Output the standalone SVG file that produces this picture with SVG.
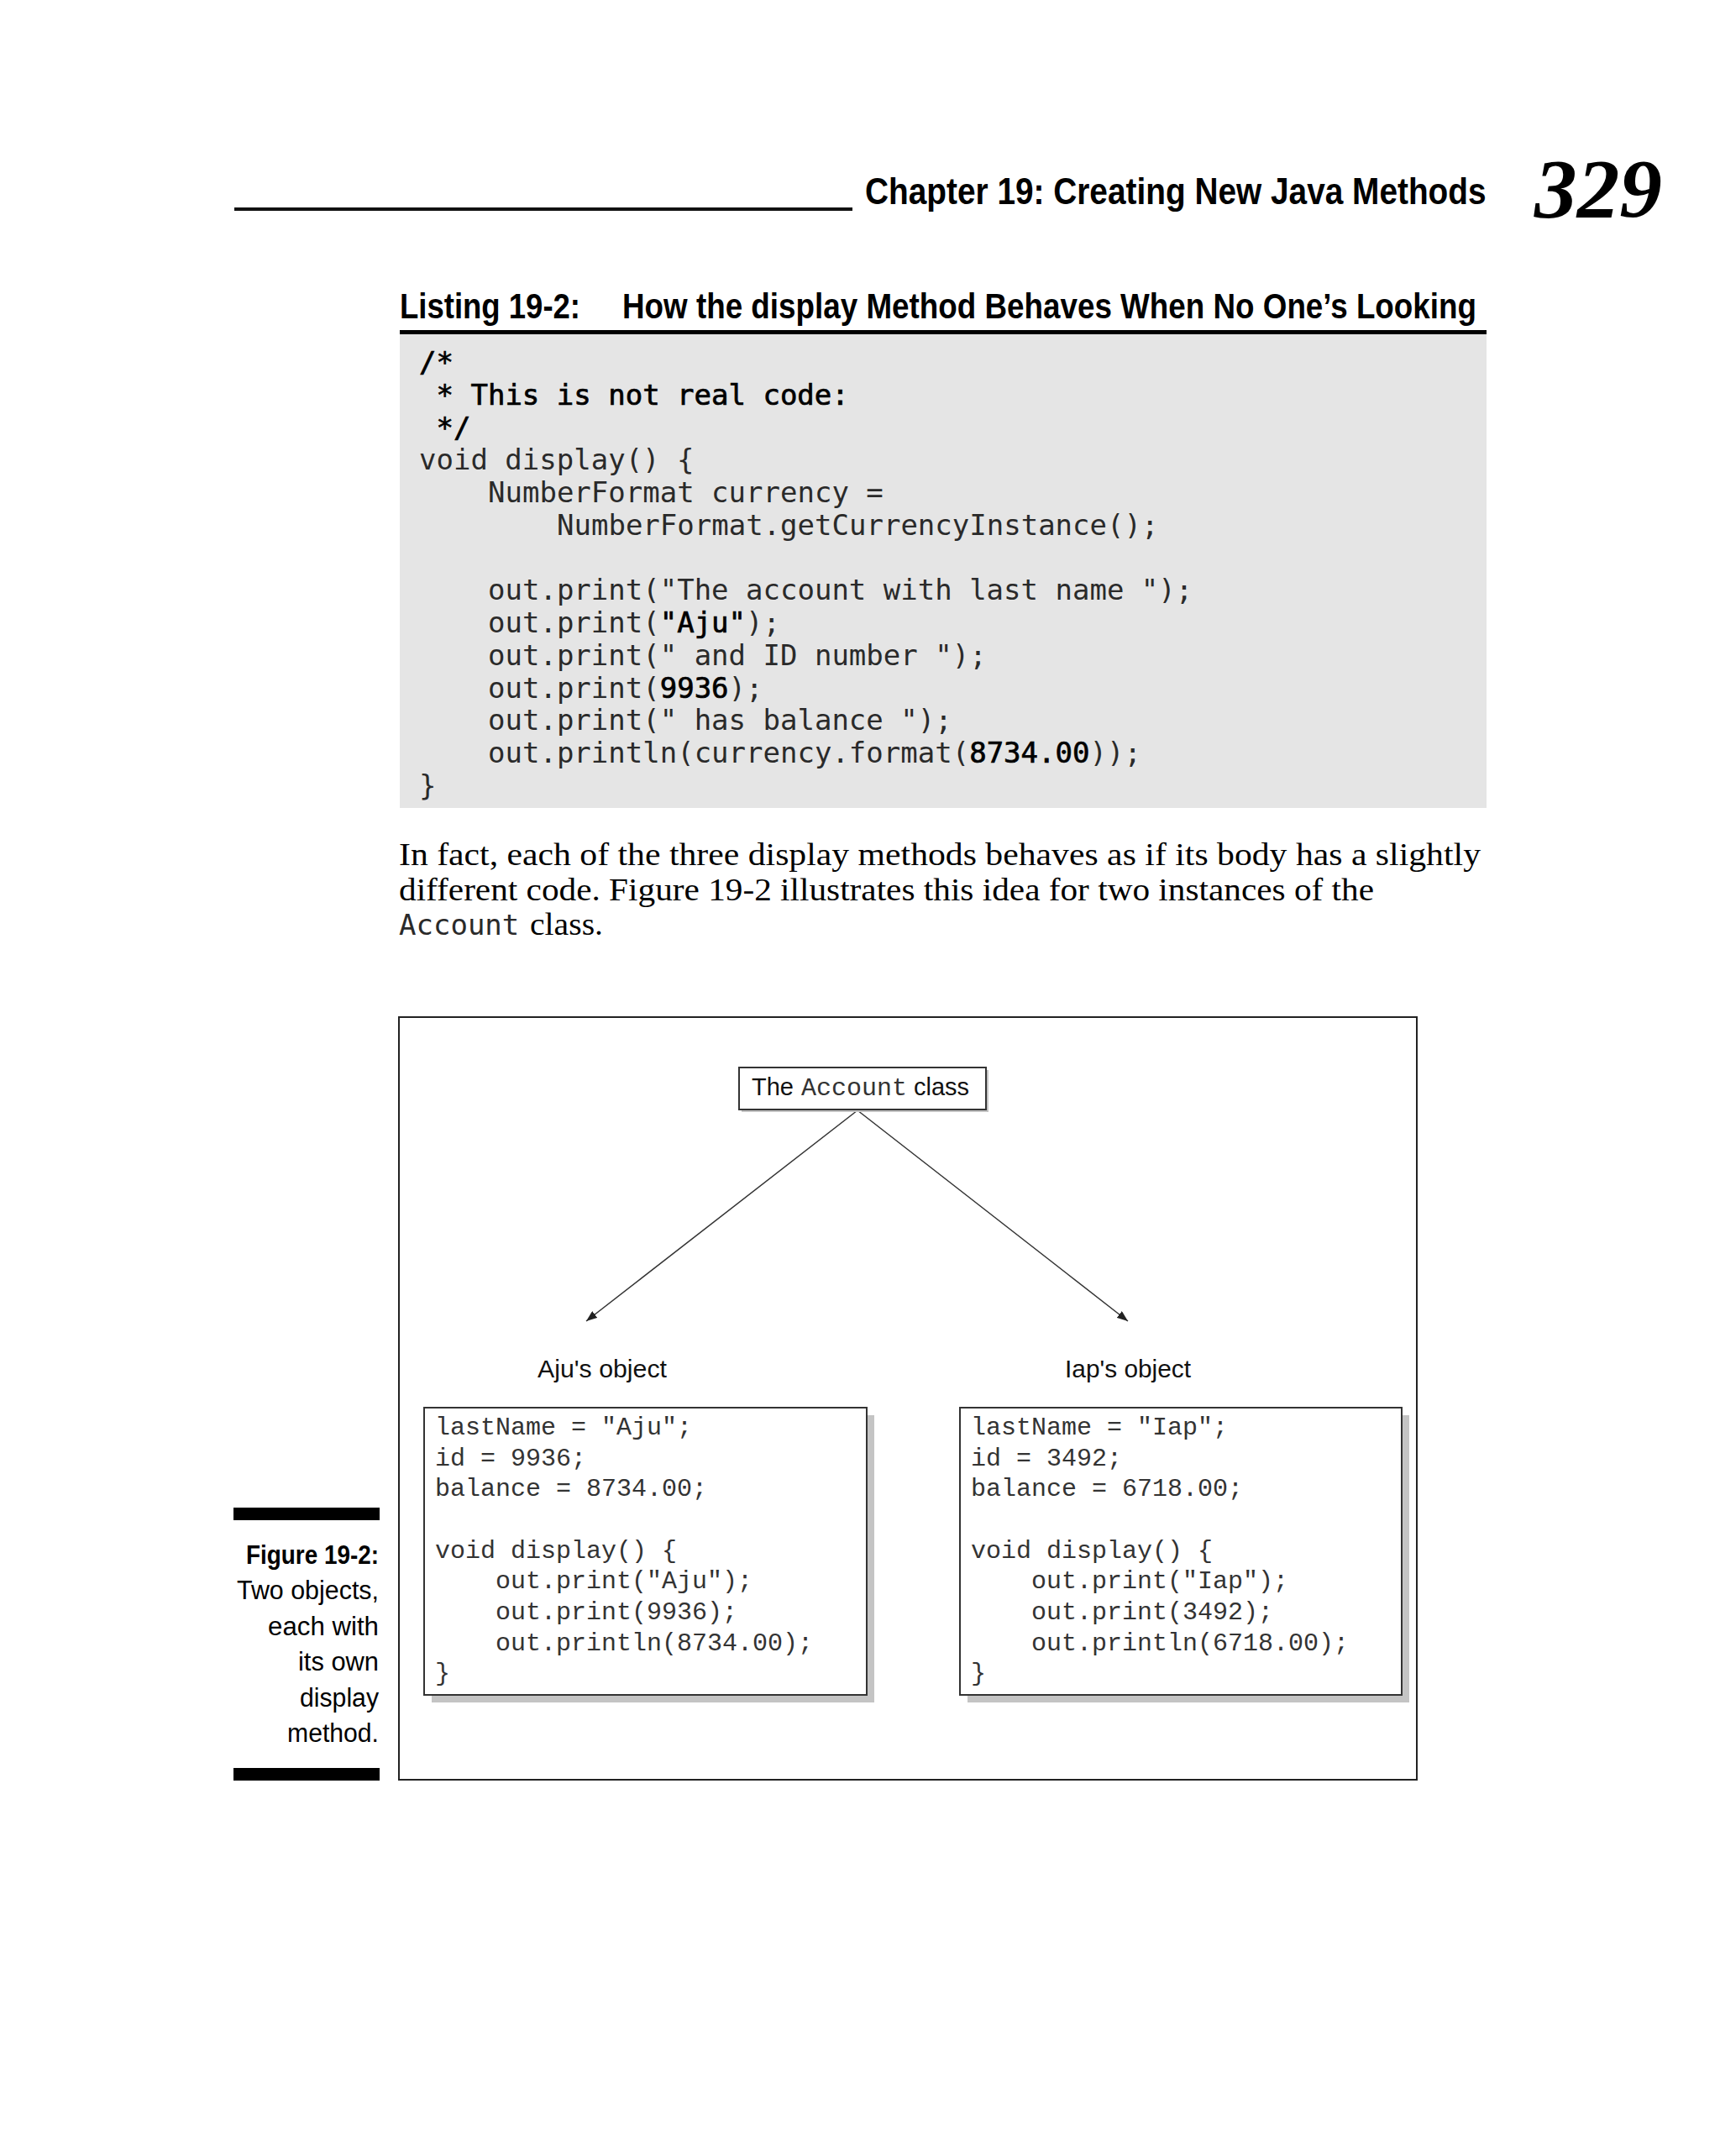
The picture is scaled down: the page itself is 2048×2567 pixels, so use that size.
<svg xmlns="http://www.w3.org/2000/svg" width="2048" height="2567" viewBox="0 0 2048 2567">
<style>
.hdr{font-family:"Liberation Sans",Arial,sans-serif;font-weight:bold;fill:#000}
.code{font-family:"DejaVu Sans Mono",monospace;font-size:34px;fill:#2a2a2a}
.codeb{fill:#000;stroke:#000;stroke-width:0.7}
.para{font-family:"Liberation Serif","DejaVu Serif",serif;font-size:37px;fill:#000}
.cap{font-family:"Liberation Sans",Arial,sans-serif;font-size:31px;fill:#000;text-anchor:end}
.lbl{font-family:"Liberation Sans",Arial,sans-serif;font-size:29px;fill:#111}
.obj{font-family:"Liberation Mono","Courier New",monospace;font-size:30px;fill:#333}
.box{fill:#fff;stroke:#333;stroke-width:2}
.shadow{fill:#c4c4c4}
.conn{stroke:#333;stroke-width:1.5;fill:none}
</style>
<defs>
<marker id="arrow" markerUnits="userSpaceOnUse" markerWidth="14" markerHeight="10" refX="13" refY="5" orient="auto">
<path d="M0,0 L13,5 L0,10 Z" fill="#222"/>
</marker>
</defs>
<rect width="2048" height="2567" fill="#fff"/>

<!-- page header -->
<rect x="279" y="247" width="736" height="4" fill="#111"/>
<text class="hdr" transform="translate(1030,243) scale(0.862,1)" x="0" y="0" font-size="45" textLength="858" lengthAdjust="spacingAndGlyphs">Chapter 19: Creating New Java Methods</text>
<text x="1827" y="258" font-family="Liberation Serif,serif" font-weight="bold" font-style="italic" font-size="100" textLength="152" lengthAdjust="spacingAndGlyphs" fill="#000">329</text>

<!-- listing title -->
<text class="hdr" x="476" y="379" font-size="42" textLength="215" lengthAdjust="spacingAndGlyphs">Listing 19-2:</text>
<text class="hdr" x="741" y="379" font-size="42" textLength="1017" lengthAdjust="spacingAndGlyphs">How the display Method Behaves When No One’s Looking</text>
<rect x="476" y="393" width="1294" height="5" fill="#000"/>
<rect x="476" y="398" width="1294" height="564" fill="#e5e5e5"/>

<!-- listing code -->
<g class="code">
<text x="499" y="443" class="codeb">/*</text>
<text x="519.5" y="481.75" class="codeb">* This is not real code:</text>
<text x="519.5" y="520.5" class="codeb">*/</text>
<text x="499" y="559.25">void display() {</text>
<text x="581" y="598">NumberFormat currency =</text>
<text x="663" y="636.75">NumberFormat.getCurrencyInstance();</text>
<text x="581" y="714.25">out.print("The account with last name ");</text>
<text x="581" y="753">out.print(<tspan class="codeb">"Aju"</tspan>);</text>
<text x="581" y="791.75">out.print(" and ID number ");</text>
<text x="581" y="830.5">out.print(<tspan class="codeb">9936</tspan>);</text>
<text x="581" y="869.25">out.print(" has balance ");</text>
<text x="581" y="908">out.println(currency.format(<tspan class="codeb">8734.00</tspan>));</text>
<text x="499" y="946.75">}</text>
</g>

<!-- paragraph -->
<text class="para" x="475" y="1030" textLength="1288" lengthAdjust="spacingAndGlyphs">In fact, each of the three display methods behaves as if its body has a slightly</text>
<text class="para" x="475" y="1072" textLength="1161" lengthAdjust="spacingAndGlyphs">different code. Figure 19-2 illustrates this idea for two instances of the</text>
<text class="code" x="475" y="1113" fill="#333">Account</text>
<text class="para" x="631" y="1113" textLength="87" lengthAdjust="spacingAndGlyphs">class.</text>

<!-- caption -->
<rect x="278" y="1795" width="174" height="15" fill="#000"/>
<text class="cap" x="451" y="1862" font-weight="bold" font-size="32" textLength="158" lengthAdjust="spacingAndGlyphs">Figure 19-2:</text>
<text class="cap" x="451" y="1904" textLength="169" lengthAdjust="spacingAndGlyphs">Two objects,</text>
<text class="cap" x="451" y="1947" textLength="132" lengthAdjust="spacingAndGlyphs">each with</text>
<text class="cap" x="451" y="1989" textLength="96" lengthAdjust="spacingAndGlyphs">its own</text>
<text class="cap" x="451" y="2032" textLength="94" lengthAdjust="spacingAndGlyphs">display</text>
<text class="cap" x="451" y="2074" textLength="109" lengthAdjust="spacingAndGlyphs">method.</text>
<rect x="278" y="2105" width="174" height="15" fill="#000"/>

<!-- figure frame -->
<rect x="475" y="1211" width="1212" height="908" fill="none" stroke="#222" stroke-width="2"/>

<!-- connectors -->
<g id="connectors">
<line class="conn" x1="1021" y1="1322" x2="698" y2="1573" marker-end="url(#arrow)"/>
<line class="conn" x1="1021" y1="1322" x2="1343" y2="1573" marker-end="url(#arrow)"/>
</g>

<!-- class node -->
<g id="account-class">
<rect class="shadow" x="883" y="1274" width="294" height="50"/>
<rect class="box" x="880" y="1271" width="294" height="50"/>
<text class="lbl" x="895" y="1304">The</text>
<text class="obj" x="954" y="1304" font-size="29" fill="#555">Account</text>
<text class="lbl" x="1088" y="1304">class</text>
</g>

<!-- Aju's object -->
<g id="aju-object">
<text class="lbl" x="640" y="1640" textLength="154" lengthAdjust="spacingAndGlyphs">Aju's object</text>
<rect class="shadow" x="514" y="1685" width="527" height="342"/>
<rect class="box" x="505" y="1676" width="527" height="342"/>
<text class="obj" x="518" y="1708">lastName = "Aju";</text>
<text class="obj" x="518" y="1745">id = 9936;</text>
<text class="obj" x="518" y="1781">balance = 8734.00;</text>
<text class="obj" x="518" y="1855">void display() {</text>
<text class="obj" x="590" y="1891">out.print("Aju");</text>
<text class="obj" x="590" y="1928">out.print(9936);</text>
<text class="obj" x="590" y="1965">out.println(8734.00);</text>
<text class="obj" x="518" y="2001">}</text>
</g>

<!-- Iap's object -->
<g id="iap-object">
<text class="lbl" x="1268" y="1640" textLength="150" lengthAdjust="spacingAndGlyphs">Iap's object</text>
<rect class="shadow" x="1152" y="1685" width="526" height="342"/>
<rect class="box" x="1143" y="1676" width="526" height="342"/>
<text class="obj" x="1156" y="1708">lastName = "Iap";</text>
<text class="obj" x="1156" y="1745">id = 3492;</text>
<text class="obj" x="1156" y="1781">balance = 6718.00;</text>
<text class="obj" x="1156" y="1855">void display() {</text>
<text class="obj" x="1228" y="1891">out.print("Iap");</text>
<text class="obj" x="1228" y="1928">out.print(3492);</text>
<text class="obj" x="1228" y="1965">out.println(6718.00);</text>
<text class="obj" x="1156" y="2001">}</text>
</g>
</svg>
